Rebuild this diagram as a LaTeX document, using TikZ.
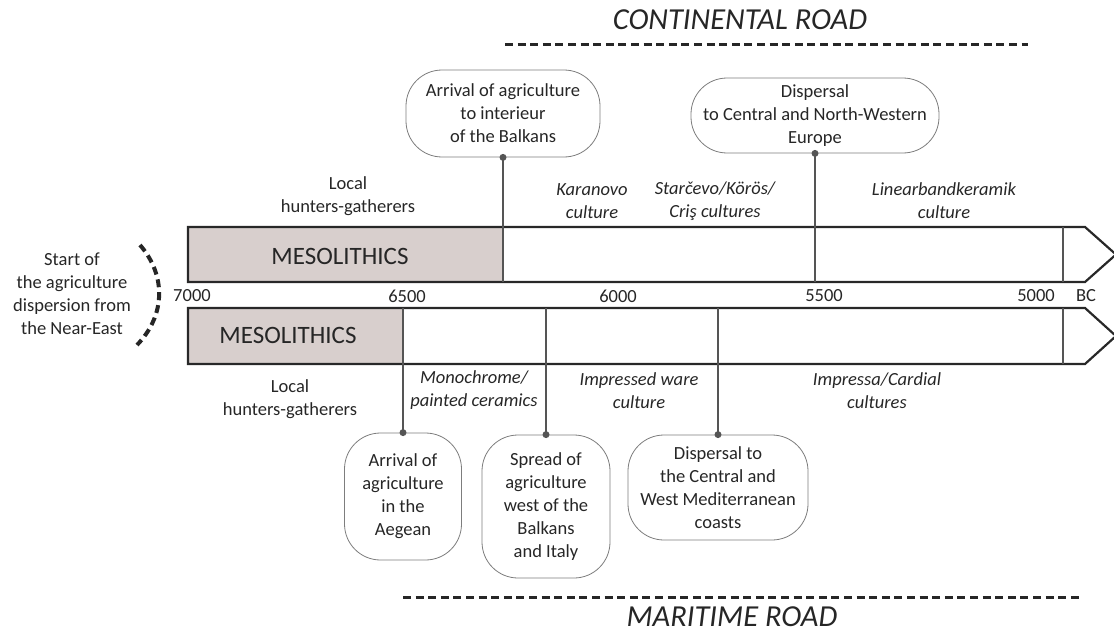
\documentclass[tikz,border=0pt]{standalone}
\usepackage{fontspec}
\setmainfont{Carlito}
\definecolor{meso}{RGB}{216,207,205}
\definecolor{barline}{RGB}{40,40,40}
\definecolor{conn}{RGB}{85,85,85}
\definecolor{boxline}{RGB}{125,125,125}
\tikzset{
  txt/.style={font=\fontsize{18.5}{23}\selectfont, align=center, inner sep=0pt, text=black!85},
  itx/.style={txt, font=\fontsize{18.5}{23}\selectfont\itshape},
  callout/.style={txt, draw=boxline, line width=0.8pt, rounded corners=36pt, fill=white},
  bar/.style={draw=barline, line width=2.2pt, line join=miter},
  tick/.style={draw=conn, line width=1.3pt},
  link/.style={draw=conn, line width=1.5pt},
  dotc/.style={fill=conn},
  road/.style={draw=black!85, line width=3pt, dash pattern=on 8pt off 4.6pt},
  roadlbl/.style={font=\fontsize{30.5}{32}\selectfont\itshape, inner sep=0pt, text=black!85, anchor=base},
  meso label/.style={font=\fontsize{25}{28}\selectfont, inner sep=0pt, text=black!85},
  year/.style={txt}
}
\begin{document}
\begin{tikzpicture}[x=1pt,y=-1pt]
\useasboundingbox (0,0) rectangle (1114,634);

% ---- bars ----
\fill[meso] (188,227) rectangle (503,282);
\fill[meso] (188,308) rectangle (403,364);
\draw[bar] (188,227) -- (1085,227) -- (1116,254.5) -- (1085,282) -- (188,282) -- cycle;
\draw[bar] (188,308) -- (1085,308) -- (1116,336) -- (1085,364) -- (188,364) -- cycle;
\draw[tick] (1063,227) -- (1063,282);
\draw[tick] (1063,308) -- (1063,364);

\node[meso label] (m1) at (340,256) {MESOLITHICS};
\node[meso label] (m2) at (288,335) {MESOLITHICS};

% ---- years ----
\node[year] (y7000) at (192,296) {7000};
\node[year] (y6500) at (407,296) {6500};
\node[year] (y6000) at (618,296) {6000};
\node[year] (y5500) at (824,296) {5500};
\node[year] (y5000) at (1036,296) {5000};
\node[year] (ybc) at (1086,296) {BC};

% ---- top callouts ----
\node[callout, minimum width=194pt, minimum height=87pt] (c1) at (503,113.5)
  {Arrival of agriculture\\to interieur\\of the Balkans};
\node[callout, minimum width=248pt, minimum height=75pt] (c2) at (815,115.5)
  {Dispersal\\to Central and North-Western\\Europe};
\coordinate (b1) at (503,282);
\coordinate (b2) at (815,282);
\draw[link] (c1.south) -- (b1);
\draw[link] (c2.south) -- (b2);
\fill[dotc] (c1.south) circle (3.5pt);
\fill[dotc] (c2.south) circle (3.5pt);

% ---- bottom callouts ----
\node[callout, minimum width=117pt, minimum height=127pt] (d1) at (403,496.5)
  {Arrival of\\agriculture\\in the\\Aegean};
\node[callout, minimum width=128pt, minimum height=143pt] (d2) at (546,506.5)
  {Spread of\\agriculture\\west of the\\Balkans\\and Italy};
\node[callout, minimum width=180pt, minimum height=105pt] (d3) at (718,487.5)
  {Dispersal to\\the Central and\\West Mediterranean\\coasts};
\coordinate (t1) at (403,308);
\coordinate (t2) at (546,308);
\coordinate (t3) at (718,308);
\draw[link] (t1) -- (d1.north);
\draw[link] (t2) -- (d2.north);
\draw[link] (t3) -- (d3.north);
\fill[dotc] (d1.north) circle (3.5pt);
\fill[dotc] (d2.north) circle (3.5pt);
\fill[dotc] (d3.north) circle (3.5pt);

% ---- culture labels ----
\node[txt] (lh1) at (348,196) {Local\\hunters-gatherers};
\node[itx] (kar) at (592,201) {Karanovo\\culture};
\node[itx] (sta) at (715,201) {Starčevo/Körös/\\Criş cultures};
\node[itx] (lbk) at (944,201) {Linearbandkeramik\\culture};

\node[txt] (lh2) at (290,399) {Local\\hunters-gatherers};
\node[itx] (mono) at (474,390.5) {Monochrome/\\painted ceramics};
\node[itx] (imp) at (639,390.5) {Impressed ware\\culture};
\node[itx] (card) at (877,390.5) {Impressa/Cardial\\cultures};

% ---- left note ----
\node[txt] (start) at (72,294) {Start of\\the agriculture\\dispersion from\\the Near-East};
\draw[draw=black!85, line width=4pt, dash pattern=on 8pt off 5pt]
  (140,245) .. controls (166,275) and (166,315) .. (137,345);

% ---- roads ----
\coordinate (r1a) at (505,45);
\coordinate (r1b) at (1028,45);
\draw[road] (r1a) -- (r1b);
\node[roadlbl] (cr) at (740,30) {CONTINENTAL ROAD};
\coordinate (r2a) at (403,597);
\coordinate (r2b) at (1083,597);
\draw[road] (r2a) -- (r2b);
\node[roadlbl] (mr) at (732,626) {MARITIME ROAD};
\end{tikzpicture}
\end{document}
